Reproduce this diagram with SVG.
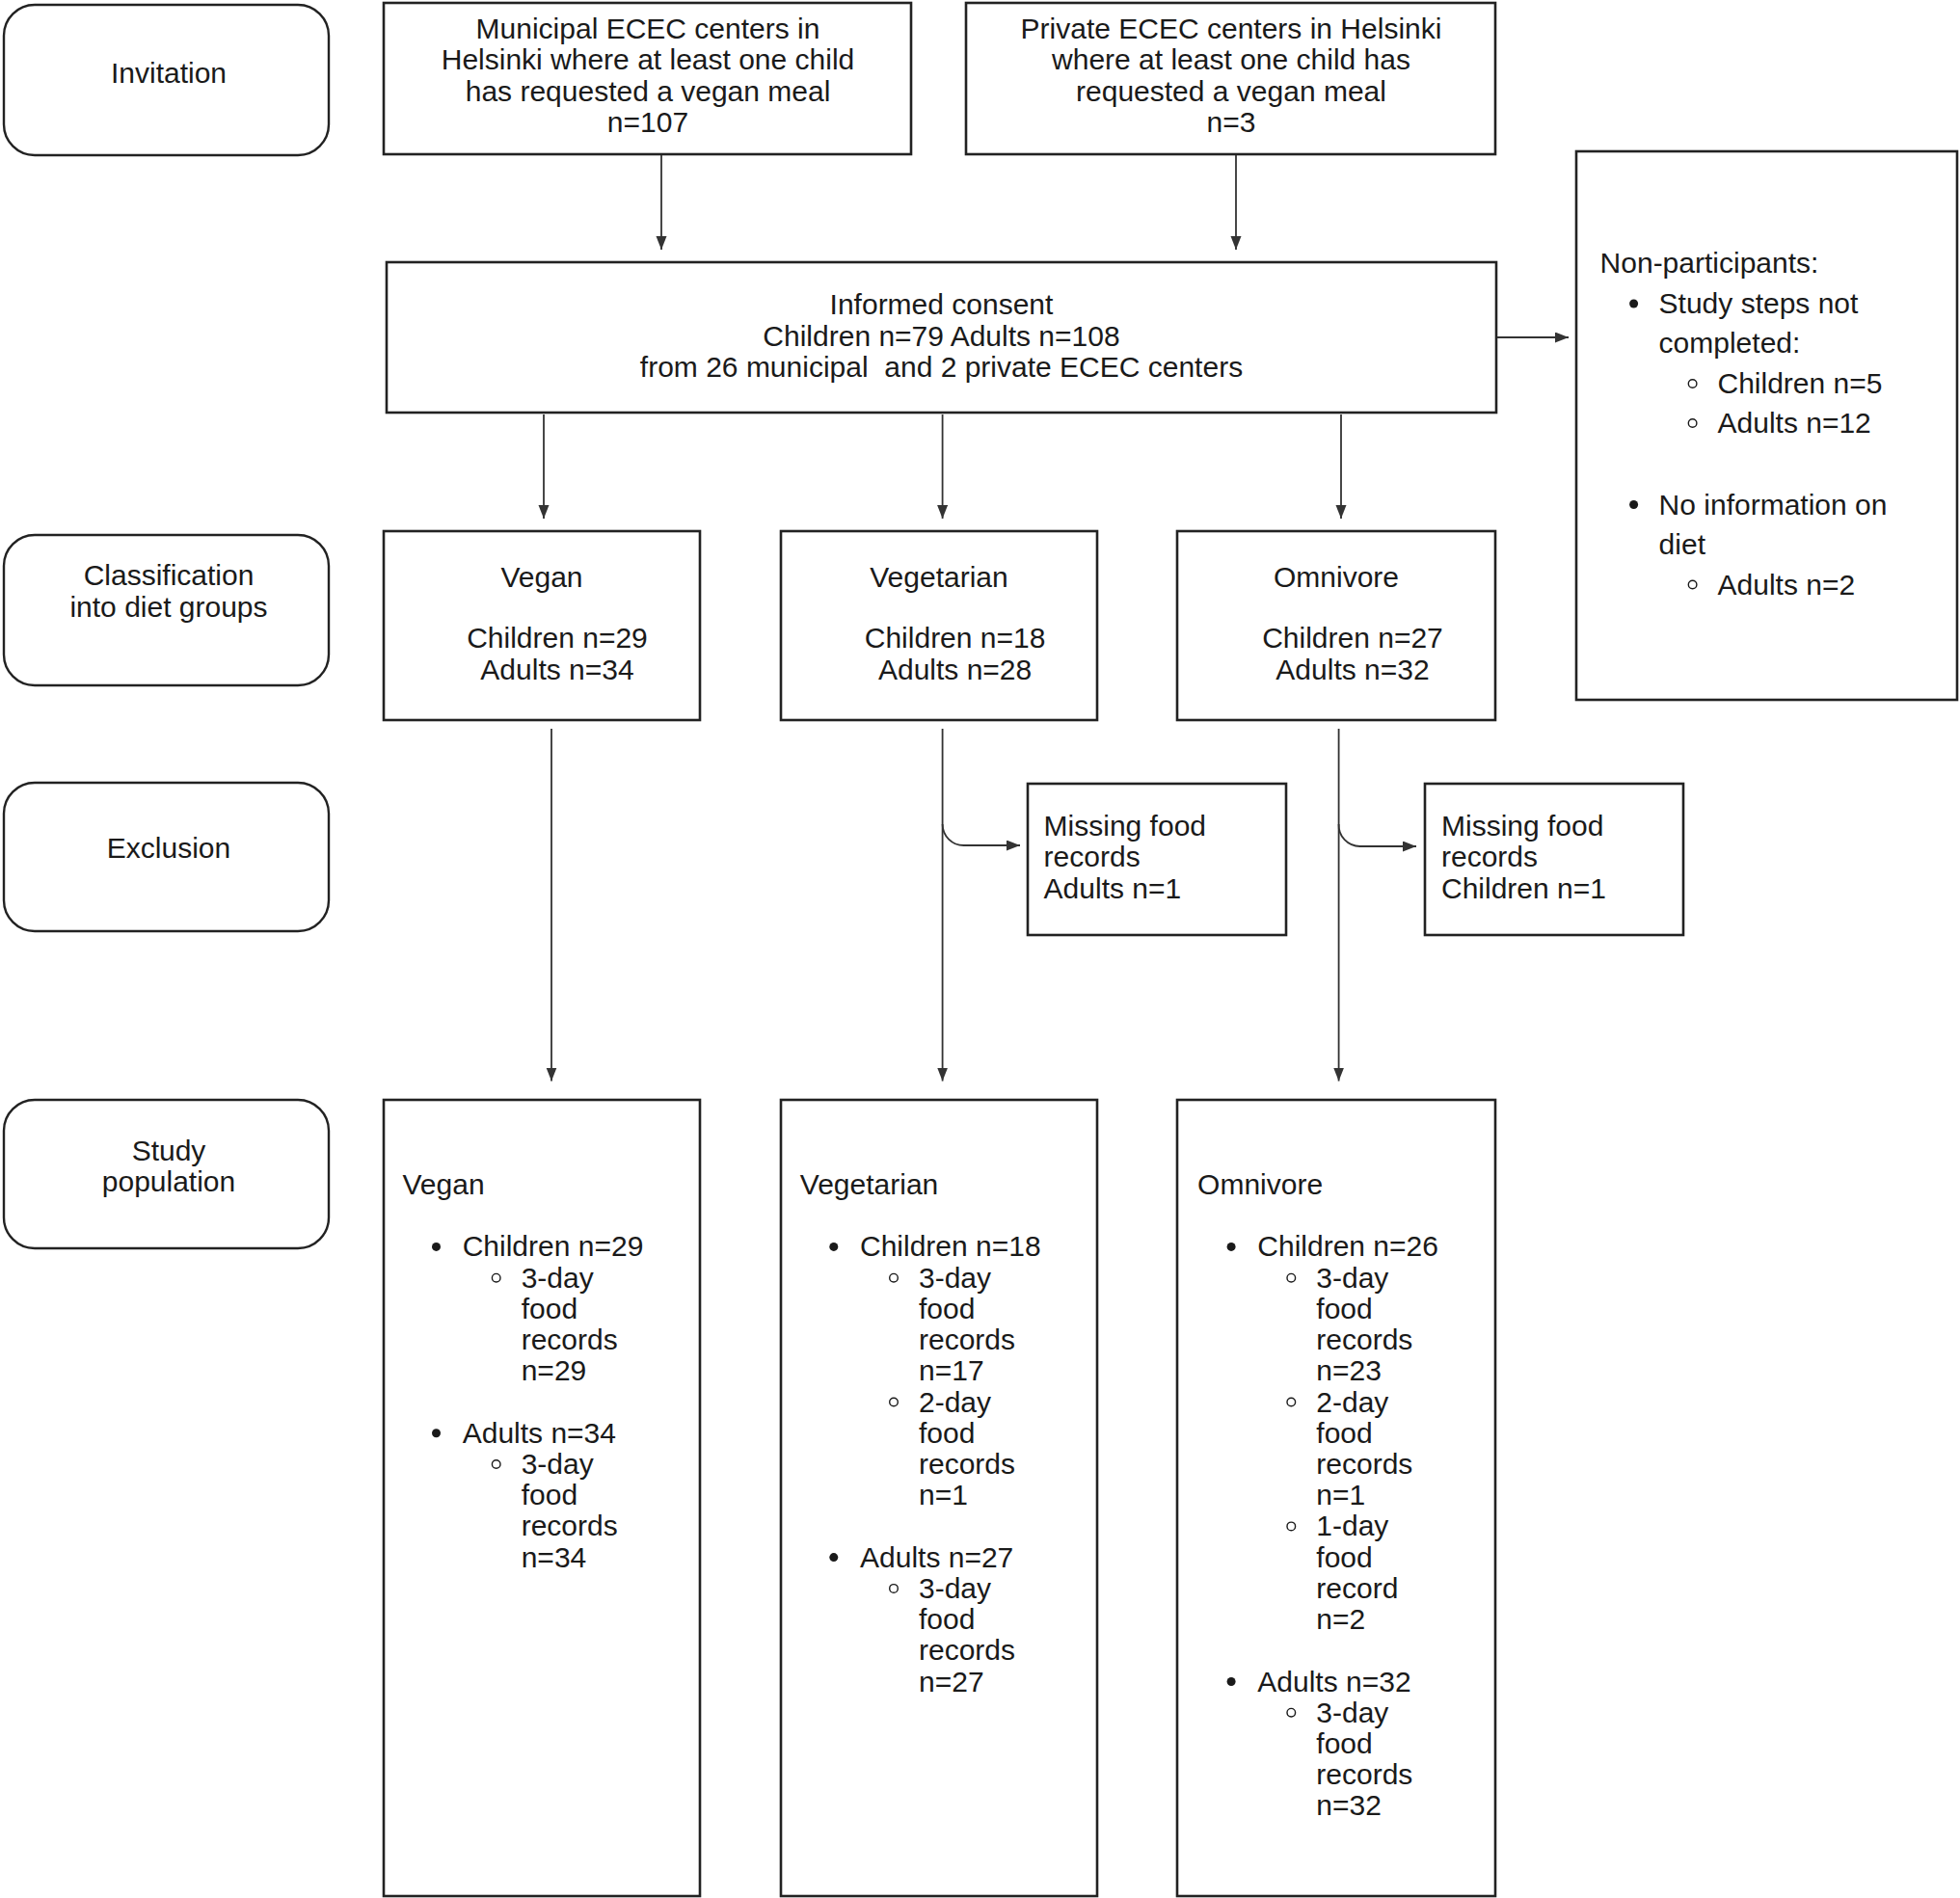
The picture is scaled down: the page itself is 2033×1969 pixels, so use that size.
<svg xmlns="http://www.w3.org/2000/svg" width="2033" height="1969" viewBox="0 0 2033 1969">
<defs>
<style>
.box{fill:#fff;stroke:#222;stroke-width:2.6}
.rbox{fill:#fff;stroke:#222;stroke-width:2.4}
text{font-family:"Liberation Sans",Arial,sans-serif;font-size:30px;fill:#1a1a1a}
.c{text-anchor:middle}
.pre{white-space:pre}
.con{fill:none;stroke:#333;stroke-width:1.8}
.dot{fill:#1a1a1a}
.ring{fill:none;stroke:#1a1a1a;stroke-width:1.4}
</style>
<marker id="ah" markerUnits="userSpaceOnUse" markerWidth="15" markerHeight="12" refX="14" refY="5.5" orient="auto">
<path d="M0,0 L14,5.5 L0,11 z" fill="#333"/>
</marker>
</defs>
<rect width="2033" height="1969" fill="#fff"/>

<g id="stage-invitation">
<rect class="rbox" x="4" y="5" width="337" height="156" rx="32"/>
<text class="c" x="175" y="86">Invitation</text>
</g>
<g id="stage-classification">
<rect class="rbox" x="4" y="555" width="337" height="156" rx="32"/>
<text class="c" x="175" y="607">Classification</text>
<text class="c" x="175" y="640">into diet groups</text>
</g>
<g id="stage-exclusion">
<rect class="rbox" x="4" y="812" width="337" height="154" rx="32"/>
<text class="c" x="175" y="890">Exclusion</text>
</g>
<g id="stage-study">
<rect class="rbox" x="4" y="1141" width="337" height="154" rx="32"/>
<text class="c" x="175" y="1204">Study</text>
<text class="c" x="175" y="1236">population</text>
</g>

<g id="municipal">
<rect class="box" x="398" y="3" width="547" height="157"/>
<text class="c" x="672" y="39.5">Municipal ECEC centers in</text>
<text class="c" x="672" y="72">Helsinki where at least one child</text>
<text class="c" x="672" y="104.5">has requested a vegan meal</text>
<text class="c" x="672" y="137">n=107</text>
</g>
<g id="private">
<rect class="box" x="1002" y="3" width="549" height="157"/>
<text class="c" x="1277" y="39.5">Private ECEC centers in Helsinki</text>
<text class="c" x="1277" y="72">where at least one child has</text>
<text class="c" x="1277" y="104.5">requested a vegan meal</text>
<text class="c" x="1277" y="137">n=3</text>
</g>
<g id="consent">
<rect class="box" x="401" y="272" width="1151" height="156"/>
<text class="c" x="976.5" y="326">Informed consent</text>
<text class="c" x="976.5" y="358.5">Children n=79 Adults n=108</text>
<text class="c pre" x="976.5" y="391" xml:space="preserve">from 26 municipal  and 2 private ECEC centers</text>
</g>
<g id="nonparticipants">
<rect class="box" x="1635" y="157" width="395" height="569"/>
<text x="1659.6" y="283">Non-participants:</text>
<circle class="dot" cx="1694.6" cy="315" r="4.5"/>
<text x="1720.6" y="325">Study steps not</text>
<text x="1720.6" y="366">completed:</text>
<circle class="ring" cx="1755.6" cy="398" r="4.3"/>
<text x="1781.5" y="408">Children n=5</text>
<circle class="ring" cx="1755.6" cy="439" r="4.3"/>
<text x="1781.5" y="449">Adults n=12</text>
<circle class="dot" cx="1694.6" cy="523.5" r="4.5"/>
<text x="1720.6" y="533.5">No information on</text>
<text x="1720.6" y="575">diet</text>
<circle class="ring" cx="1755.6" cy="606.5" r="4.3"/>
<text x="1781.5" y="616.5">Adults n=2</text>
</g>

<g id="vegan">
<rect class="box" x="398" y="551" width="328" height="196"/>
<text class="c" x="562" y="609">Vegan</text>
<text class="c" x="578" y="672">Children n=29</text>
<text class="c" x="578" y="705">Adults n=34</text>
</g>
<g id="vegetarian">
<rect class="box" x="810" y="551" width="328" height="196"/>
<text class="c" x="974" y="609">Vegetarian</text>
<text class="c" x="990.6" y="672">Children n=18</text>
<text class="c" x="990.6" y="705">Adults n=28</text>
</g>
<g id="omnivore">
<rect class="box" x="1221" y="551" width="330" height="196"/>
<text class="c" x="1386" y="609">Omnivore</text>
<text class="c" x="1403" y="672">Children n=27</text>
<text class="c" x="1403" y="705">Adults n=32</text>
</g>

<g id="missing-vegetarian">
<rect class="box" x="1066" y="813" width="268" height="157"/>
<text x="1082.6" y="867">Missing food</text>
<text x="1082.6" y="899">records</text>
<text x="1082.6" y="931.6">Adults n=1</text>
</g>
<g id="missing-omnivore">
<rect class="box" x="1478" y="813" width="268" height="157"/>
<text x="1495" y="867">Missing food</text>
<text x="1495" y="899">records</text>
<text x="1495" y="931.6">Children n=1</text>
</g>

<g id="study-vegan">
<rect class="box" x="398" y="1141" width="328" height="826"/>
<text x="417.5" y="1239">Vegan</text>
<circle class="dot" cx="452.5" cy="1293.4" r="4.5"/>
<text x="479.7" y="1303.4">Children n=29</text>
<circle class="ring" cx="514.7" cy="1325.7" r="4.3"/>
<text x="540.7" y="1335.7">3-day</text>
<text x="540.7" y="1367.9">food</text>
<text x="540.7" y="1400.1">records</text>
<text x="540.7" y="1432.3">n=29</text>
<circle class="dot" cx="452.5" cy="1486.8" r="4.5"/>
<text x="479.7" y="1496.8">Adults n=34</text>
<circle class="ring" cx="514.7" cy="1519" r="4.3"/>
<text x="540.7" y="1529">3-day</text>
<text x="540.7" y="1561.2">food</text>
<text x="540.7" y="1593.4">records</text>
<text x="540.7" y="1625.6">n=34</text>
</g>
<g id="study-vegetarian">
<rect class="box" x="810" y="1141" width="328" height="826"/>
<text x="829.8" y="1239">Vegetarian</text>
<circle class="dot" cx="864.8" cy="1293.4" r="4.5"/>
<text x="892" y="1303.4">Children n=18</text>
<circle class="ring" cx="927" cy="1325.7" r="4.3"/>
<text x="953" y="1335.7">3-day</text>
<text x="953" y="1367.9">food</text>
<text x="953" y="1400.1">records</text>
<text x="953" y="1432.3">n=17</text>
<circle class="ring" cx="927" cy="1454.5" r="4.3"/>
<text x="953" y="1464.5">2-day</text>
<text x="953" y="1496.8">food</text>
<text x="953" y="1529">records</text>
<text x="953" y="1561.2">n=1</text>
<circle class="dot" cx="864.8" cy="1615.6" r="4.5"/>
<text x="892" y="1625.6">Adults n=27</text>
<circle class="ring" cx="927" cy="1647.9" r="4.3"/>
<text x="953" y="1657.9">3-day</text>
<text x="953" y="1690.1">food</text>
<text x="953" y="1722.3">records</text>
<text x="953" y="1754.5">n=27</text>
</g>
<g id="study-omnivore">
<rect class="box" x="1221" y="1141" width="330" height="826"/>
<text x="1242.1" y="1239">Omnivore</text>
<circle class="dot" cx="1277.1" cy="1293.4" r="4.5"/>
<text x="1304.3" y="1303.4">Children n=26</text>
<circle class="ring" cx="1339.3" cy="1325.7" r="4.3"/>
<text x="1365.3" y="1335.7">3-day</text>
<text x="1365.3" y="1367.9">food</text>
<text x="1365.3" y="1400.1">records</text>
<text x="1365.3" y="1432.3">n=23</text>
<circle class="ring" cx="1339.3" cy="1454.5" r="4.3"/>
<text x="1365.3" y="1464.5">2-day</text>
<text x="1365.3" y="1496.8">food</text>
<text x="1365.3" y="1529">records</text>
<text x="1365.3" y="1561.2">n=1</text>
<circle class="ring" cx="1339.3" cy="1583.4" r="4.3"/>
<text x="1365.3" y="1593.4">1-day</text>
<text x="1365.3" y="1625.6">food</text>
<text x="1365.3" y="1657.9">record</text>
<text x="1365.3" y="1690.1">n=2</text>
<circle class="dot" cx="1277.1" cy="1744.5" r="4.5"/>
<text x="1304.3" y="1754.5">Adults n=32</text>
<circle class="ring" cx="1339.3" cy="1776.7" r="4.3"/>
<text x="1365.3" y="1786.7">3-day</text>
<text x="1365.3" y="1819">food</text>
<text x="1365.3" y="1851.2">records</text>
<text x="1365.3" y="1883.4">n=32</text>
</g>

<g id="connectors">
<path class="con" marker-end="url(#ah)" d="M686,161 L686,259"/>
<path class="con" marker-end="url(#ah)" d="M1282,161 L1282,259"/>
<path class="con" marker-end="url(#ah)" d="M1553,350 L1627,350"/>
<path class="con" marker-end="url(#ah)" d="M564,430 L564,538"/>
<path class="con" marker-end="url(#ah)" d="M977.6,430 L977.6,538"/>
<path class="con" marker-end="url(#ah)" d="M1391,430 L1391,538"/>
<path class="con" marker-end="url(#ah)" d="M572,756 L572,1121.5"/>
<path class="con" marker-end="url(#ah)" d="M977.6,756 L977.6,1121.5"/>
<path class="con" marker-end="url(#ah)" d="M1388.6,756 L1388.6,1121.5"/>
<path class="con" marker-end="url(#ah)" d="M977.6,855 A22,22 0 0 0 999.6,877 L1058,877"/>
<path class="con" marker-end="url(#ah)" d="M1388.6,855 A22,22 0 0 0 1410.6,878 L1469,878"/>
</g>
</svg>
